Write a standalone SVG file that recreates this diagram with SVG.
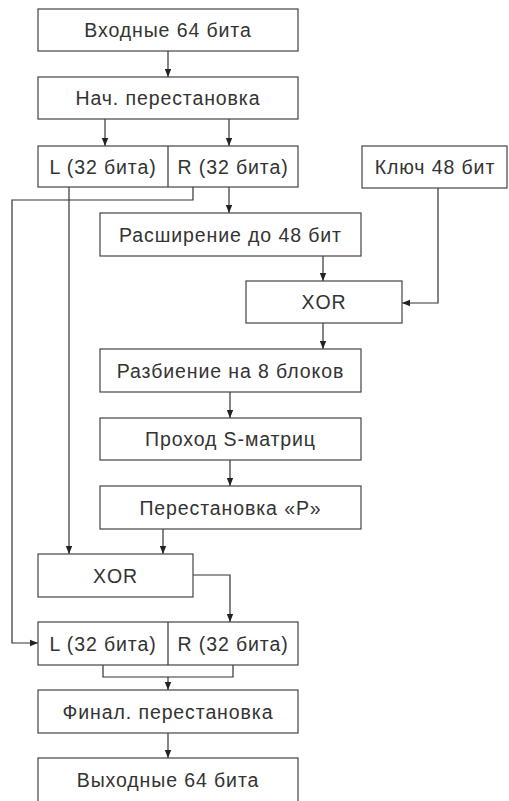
<svg xmlns="http://www.w3.org/2000/svg" width="509" height="801" viewBox="0 0 509 801">
<style>
.box{fill:#fff;stroke:#444;stroke-width:1.2}
.t{font-family:"Liberation Sans",Arial,sans-serif;font-size:19.5px;letter-spacing:0.9px;fill:#333;text-anchor:middle}
.c{fill:none;stroke:#333;stroke-width:1.2}
</style>
<defs>
<marker id="ah" viewBox="0 0 8 8" refX="8" refY="4" markerWidth="8" markerHeight="8" markerUnits="userSpaceOnUse" orient="auto">
<path d="M0,0.8 L8,4 L0,7.2 Z" fill="#222"/>
</marker>
</defs>
<rect width="509" height="801" fill="#fff"/>
<g id="connectors">
<line class="c" x1="168" y1="51" x2="168" y2="77" marker-end="url(#ah)"/>
<line class="c" x1="105" y1="119" x2="105" y2="146" marker-end="url(#ah)"/>
<line class="c" x1="229" y1="119" x2="229" y2="146" marker-end="url(#ah)"/>
<line class="c" x1="69" y1="187" x2="69" y2="554" marker-end="url(#ah)"/>
<polyline class="c" points="193,187 193,200 12,200 12,643 38,643" marker-end="url(#ah)"/>
<line class="c" x1="229" y1="187" x2="229" y2="213" marker-end="url(#ah)"/>
<polyline class="c" points="438,188 438,303 402,303" marker-end="url(#ah)"/>
<line class="c" x1="323" y1="256" x2="323" y2="281" marker-end="url(#ah)"/>
<line class="c" x1="323" y1="323" x2="323" y2="349" marker-end="url(#ah)"/>
<line class="c" x1="230" y1="392" x2="230" y2="418" marker-end="url(#ah)"/>
<line class="c" x1="230" y1="460" x2="230" y2="486" marker-end="url(#ah)"/>
<line class="c" x1="163" y1="529" x2="163" y2="554" marker-end="url(#ah)"/>
<polyline class="c" points="193,575 230,575 230,622" marker-end="url(#ah)"/>
<polyline class="c" points="103,665 103,677 233,677 233,665"/>
<line class="c" x1="168" y1="677" x2="168" y2="690" marker-end="url(#ah)"/>
<line class="c" x1="168" y1="733" x2="168" y2="758" marker-end="url(#ah)"/>
</g>
<g id="input"><rect class="box" x="38" y="9" width="260" height="42"/><text class="t" x="168" y="37">Входные 64 бита</text></g>
<g id="initperm"><rect class="box" x="38" y="77" width="260" height="42"/><text class="t" x="168" y="105">Нач. перестановка</text></g>
<g id="lr1"><rect class="box" x="38" y="146" width="260" height="41"/><line class="c" x1="168" y1="146" x2="168" y2="187"/><text class="t" x="103" y="173.5">L (32 бита)</text><text class="t" x="233" y="173.5">R (32 бита)</text></g>
<g id="key"><rect class="box" x="362" y="146" width="145" height="42"/><text class="t" x="435" y="173.5">Ключ 48 бит</text></g>
<g id="expand"><rect class="box" x="100" y="213" width="261" height="43"/><text class="t" x="230.5" y="241.5">Расширение до 48 бит</text></g>
<g id="xor1"><rect class="box" x="246" y="281" width="156" height="42"/><text class="t" x="324" y="309">XOR</text></g>
<g id="split"><rect class="box" x="100" y="349" width="261" height="43"/><text class="t" x="230.5" y="377.5">Разбиение на 8 блоков</text></g>
<g id="sbox"><rect class="box" x="100" y="418" width="261" height="42"/><text class="t" x="230.5" y="446">Проход S-матриц</text></g>
<g id="pperm"><rect class="box" x="100" y="486" width="261" height="43"/><text class="t" x="230.5" y="514.5">Перестановка «P»</text></g>
<g id="xor2"><rect class="box" x="38" y="554" width="155" height="43"/><text class="t" x="115.5" y="582.5">XOR</text></g>
<g id="lr2"><rect class="box" x="38" y="622" width="260" height="43"/><line class="c" x1="168" y1="622" x2="168" y2="665"/><text class="t" x="103" y="650.5">L (32 бита)</text><text class="t" x="233" y="650.5">R (32 бита)</text></g>
<g id="finalperm"><rect class="box" x="38" y="690" width="260" height="43"/><text class="t" x="168" y="718.5">Финал. перестановка</text></g>
<g id="output"><rect class="box" x="38" y="758" width="260" height="44"/><text class="t" x="168" y="786.5">Выходные 64 бита</text></g>
</svg>
